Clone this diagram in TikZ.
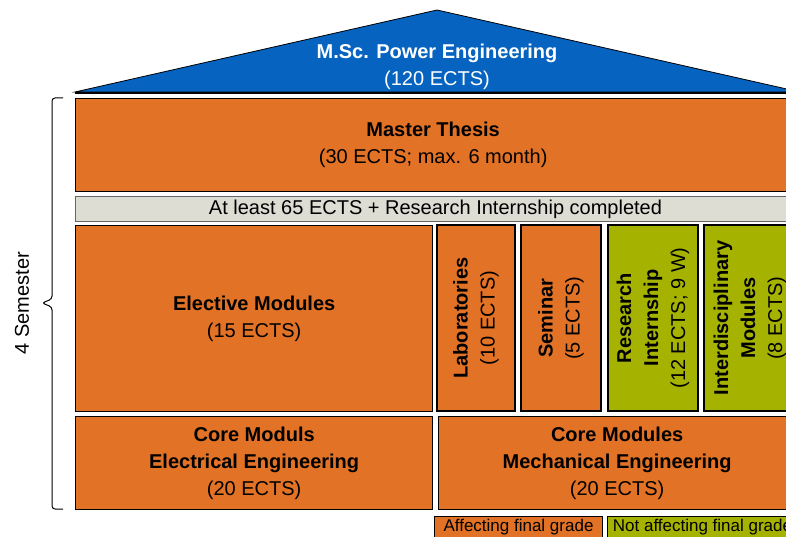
\documentclass[tikz,border=0pt]{standalone}
\usepackage{fontspec}
\setmainfont{Liberation Sans}
\definecolor{orangeC}{RGB}{226,114,38}
\definecolor{greenC}{RGB}{166,178,0}
\definecolor{blueC}{RGB}{6,100,192}
\definecolor{greyC}{RGB}{221,221,212}
\newcommand\fsz{\fontsize{20}{27}\selectfont}
\newcommand\fszs{\fontsize{17}{21}\selectfont}
\tikzset{
  blk/.style={draw=black, line width=1.3pt, fill=orangeC, align=center, font=\fsz, inner sep=0pt, anchor=north west},
  rblk/.style={draw=black, line width=1.3pt, fill=orangeC, align=center, font=\fsz, inner sep=0pt, rotate=90},
  gblk/.style={rblk, fill=greenC},
  bar/.style={draw=black!60, line width=1pt, fill=greyC, align=center, font=\fsz, inner sep=0pt, anchor=north west},
  legend/.style={draw=black, line width=1pt, align=center, font=\fszs, inner sep=0pt, anchor=north west},
  rooftxt/.style={text=white, align=center, font=\fsz},
  semtxt/.style={font=\fsz, rotate=90}
}
\begin{document}
\begin{tikzpicture}[x=1pt,y=-1pt]
\useasboundingbox (0,0) rectangle (786,537);
\clip (0,0) rectangle (786,537);
% roof
\draw[fill=blueC, line width=0.8pt] (75,92) -- (437,10) -- (800,92) -- cycle;
\draw[line width=2pt] (75,93) -- (800,93);
\node[rooftxt] (title) at (437,67) {\textbf{M.Sc. Power Engineering}\\(120 ECTS)};
% thesis
\node[blk, minimum width=715, minimum height=93] (thesis) at (75,98) {\textbf{Master Thesis}\\(30 ECTS; max. 6 month)};
% grey bar
\node[bar, minimum width=720, minimum height=25] (cond) at (75,196) {At least 65 ECTS + Research Internship completed};
% middle row
\node[blk, minimum width=357, minimum height=186] (elective) at (75,225) {\textbf{Elective Modules}\\(15 ECTS)};
\node[rblk, minimum width=186, minimum height=78] (labs) at (476,318) {\textbf{Laboratories}\\(10 ECTS)};
\node[rblk, minimum width=186, minimum height=80] (seminar) at (561,318) {\textbf{Seminar}\\(5 ECTS)};
\node[gblk, minimum width=186, minimum height=90] (research) at (653,318) {\textbf{Research}\\\textbf{Internship}\\(12 ECTS; 9 W)};
\node[gblk, minimum width=186, minimum height=92] (inter) at (750,318) {\textbf{Interdisciplinary}\\\textbf{Modules}\\(8 ECTS)};
% bottom row
\node[blk, minimum width=357, minimum height=93] (coreEE) at (75,416) {\textbf{Core Moduls}\\\textbf{Electrical Engineering}\\(20 ECTS)};
\node[blk, minimum width=357, minimum height=93] (coreME) at (438,416) {\textbf{Core Modules}\\\textbf{Mechanical Engineering}\\(20 ECTS)};
% legend
\node[legend, fill=orangeC, minimum width=168, minimum height=21] (leg1) at (434,516) {Affecting final grade};
\node[legend, fill=greenC, minimum width=190, minimum height=21] (leg2) at (607,516) {Not affecting final grade};
% brace
\draw[line width=1pt, rounded corners=3pt] (63,98) -- (52,98) -- (52,299) -- (42,303) -- (52,307) -- (52,509) -- (63,509);
\node[semtxt] (sem) at (22,303) {4 Semester};
\end{tikzpicture}
\end{document}
